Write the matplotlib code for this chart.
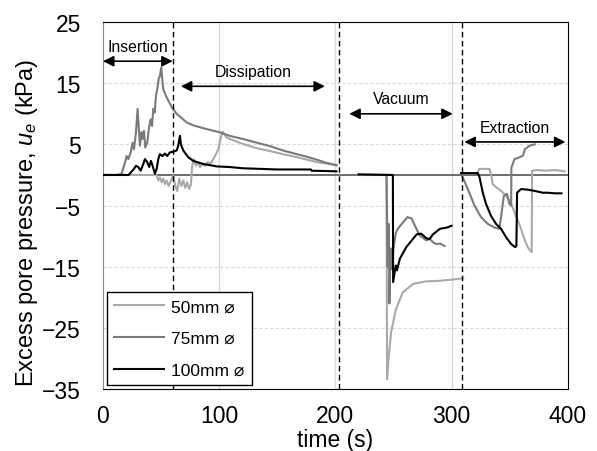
import numpy as np
import matplotlib.pyplot as plt

plt.rcParams['font.family'] = ['Liberation Sans', 'DejaVu Sans']
plt.rcParams['mathtext.fontset'] = 'custom'
plt.rcParams['mathtext.it'] = 'Liberation Sans:italic'
plt.rcParams['mathtext.rm'] = 'Liberation Sans'

# 50 mm probe (light grey)
t50 = [0, 46, 47.6, 49, 50.5, 51.9, 53.3, 54.8, 56.5, 58.2, 60.5, 62.2, 63.9, 65.6, 67.4, 69.1,
       70.8, 72.5, 74.2, 75.7, 76.8, 78.3, 80, 81.7, 83.4, 85.7, 88, 90.3, 92.6, 94.9, 97.2,
       99.2, 101.2, 103, 106, 109, 120, 132, 144, 155, 167, 184, 201,
       np.nan,
       220, 244, 244.5, 245.5, 248, 252, 258, 267, 278, 290, 300, 310,
       np.nan,
       309, 322, 324, 332.6, 334, 335.5, 338.3, 342.6, 347, 351, 355.5, 359.8, 362.7, 365.6,
       367.9, 369, 369.3, 374.2, 381, 389, 397.4]
u50 = [0, 0, -0.9, -0.4, -1.2, -0.6, -1.5, -0.9, -1.8, -1.1, -0.1, -1.8, -2.6, -0.6, -1.8, -0.9,
       -2.1, -1.2, -2.3, -1.5, 1.5, 2.6, 1.5, 2.1, 1.3, 1.8, 1.5, 2.1, 1.8, 2.6, 3.4,
       4.2, 5.9, 7.1, 6.2, 5.9, 5.1, 4.4, 3.9, 3.4, 2.9, 2.1, 1.6,
       np.nan,
       0, 0, -33.4, -30.5, -25.7, -22, -19.2, -17.8, -17.4, -17.3, -17.1, -16.9,
       np.nan,
       0.2, 0.3, 1.0, 1.0, 0.1, -1.5, -2.0, -2.6, -3.4, -4.6, -6.7, -8.8, -10.5, -11.8,
       -12.4, -12.6, 0.7, 0.8, 0.7, 0.8, 0.6]

# 75 mm probe (mid grey)
t75 = [0, 11.8, 16, 19, 20.4, 21.8, 23.8, 25.5, 26.7, 28.4, 29.8, 30.7, 31.8, 33.2, 34.1, 35.3,
       36.4, 38.1, 39.8, 41, 42.2, 43.3, 44.5, 45.6, 46.7, 47.9, 49, 50.2, 51, 51.9, 54.8,
       59.1, 63.4, 72, 77.8, 89.3, 100, 109, 120, 132, 144, 155, 167, 175, 184, 192, 201,
       np.nan,
       220, 244, 244.5, 245, 246, 246.5, 247.5, 248.5, 250, 252, 253.7, 258, 262, 265.5,
       269, 272.7, 278.4, 281, 284, 287, 290, 294,
       np.nan,
       308.5, 314, 319.7, 325.4, 331.2, 337, 341.2, 342.7, 345, 347.8, 349.8, 351.3, 351.5,
       354.2, 358.7, 361.6, 363, 367.3, 371.6]
u75 = [0, 0, 0.2, 2.1, 3.1, 2.6, 3.7, 5.3, 4.2, 7.0, 10.8, 8.0, 4.8, 7.0, 5.9, 7.2,
       4.5, 5.3, 8.0, 9.1, 8.0, 10.8, 10.2, 13.0, 14.0, 15.7, 16.2, 17.6, 15.7, 14.0, 12.7,
       11.1, 10.0, 8.6, 8.1, 7.5, 7.0, 6.4, 5.9, 5.3, 4.7, 4.0, 3.4, 3.0, 2.5, 2.0, 1.6,
       np.nan,
       0, 0, -7, -15, -8, -21, -12, -15.4, -12, -9.5, -8.8, -7.8, -6.9, -7.1,
       -8.5, -9.9, -10.7, -10.4, -11.0, -11.3, -11.2, -11.6,
       np.nan,
       0.1, -2.3, -5.0, -6.9, -8.0, -8.6, -8.8, -6.7, -3.4, -3.1, -4.75, -5.0, 1.2,
       2.6, 2.9, 3.2, 4.2, 4.8, 5.0]

# 100 mm probe (black)
t100 = [0, 22, 26.7, 28.4, 30.4, 32.4, 34.7, 36.1, 38.1, 39.8, 41.3, 42.7, 44.7, 46.2, 47.6,
        49, 51.3, 53.3, 55.3, 57.6, 60.5, 63.4, 64.8, 66.2, 67.1, 69.1, 73.4, 77.7, 86.3,
        98, 109, 120, 150, 179, 179.5, 201,
        np.nan,
        220, 249.5, 249.7, 252, 253, 255.5, 261, 270, 274, 278, 281, 284, 290, 296, 300,
        np.nan,
        308.2, 322.6, 324, 326.9, 329.7, 334, 338.3, 342.6, 347, 351.3, 354.7, 355.8, 356.4,
        359.8, 365.6, 371.4, 378.5, 382.8, 389, 394.6]
u100 = [0, 0, 1.0, 1.5, 1.3, 0.7, 1.8, 2.6, 2.1, 1.3, 2.3, 1.5, 0.2, 1.0, 2.6,
        3.4, 3.1, 3.5, 3.1, 3.7, 3.8, 4.0, 4.8, 6.4, 5.0, 4.0, 2.9, 2.3, 1.8,
        1.4, 1.3, 1.1, 0.9, 0.9, 0.7, 0.6,
        np.nan,
        0.1, 0, -17.5, -14.8, -15.6, -13.7, -11.8, -9.7, -9.6, -10.3, -10.5, -9.7, -8.8, -8.6, -8.3,
        np.nan,
        0.3, 0.3, -0.3, -2.9, -4.75, -6.7, -8.0, -8.8, -10.2, -11.3, -11.8, -11.6, -2.9,
        -2.3, -2.4, -2.6, -2.9, -2.9, -3.0, -3.0]

labels = ['50mm \u2300', '75mm \u2300', '100mm \u2300']
colors = ['#a9a9a9', '#7a7a7a', '#000000']

# phase boundaries and labels
phase_lines = [60, 203, 309]
phases = ['Insertion', 'Dissipation', 'Vacuum', 'Extraction']
phase_span = [(0, 60), (67, 191), (212, 301), (311, 398)]
phase_y = [18.6, 14.5, 10.0, 5.4]

fig = plt.figure(figsize=(5.97, 4.52), dpi=100)
ax = fig.add_axes([0.1725, 0.137, 0.7785, 0.812])

ax.set_xlim(0, 400)
ax.set_ylim(-35, 25)
ax.set_xticks([0, 100, 200, 300, 400])
ax.set_yticks(np.arange(-35, 26, 10))

for y in [-25, -15, -5, 5, 15]:
    ax.axhline(y, color='#d9d9d9', lw=0.8, ls=(0, (3, 2)), zorder=0)
for x in [100, 200, 300]:
    ax.axvline(x, color='#d9d9d9', lw=1.0, zorder=0)
ax.axhline(0, color='#555555', lw=1.2, zorder=1)

for t, u, lab, c in zip([t50, t75, t100], [u50, u75, u100], labels, colors):
    ax.plot(t, u, color=c, lw=1.5, label=lab, zorder=3)

for x in phase_lines:
    ax.axvline(x, color='black', lw=1.0, ls=(0, (4, 2.5)), zorder=4)

for name, (a, b), y in zip(phases, phase_span, phase_y):
    ax.annotate('', xy=(a, y), xytext=(b, y),
                arrowprops=dict(arrowstyle='<|-|>', color='black', lw=1.2,
                                mutation_scale=16, shrinkA=0, shrinkB=0))
    ax.text((a + b) / 2, y + 1.2, name, ha='center', va='bottom', fontsize=11.3)

ax.tick_params(length=0, labelsize=16.5)
ax.tick_params(axis='y', pad=16)
ax.tick_params(axis='x', pad=11)
ax.spines['left'].set_color('#888888')

ax.set_xlabel('time (s)', fontsize=16.5)
ax.xaxis.set_label_coords(0.5, -0.105, transform=ax.transAxes)
ax.xaxis.label.set_va('top')
ax.set_ylabel('Excess pore pressure, $u_e$ (kPa)', fontsize=17)
ax.yaxis.set_label_coords(-0.163, 0.455)
ax.yaxis.label.set_va('center')

leg = ax.legend(loc='lower left', bbox_to_anchor=(0.009, 0.012), fontsize=12.5,
                handlelength=2.9, handletextpad=0.4, labelspacing=0.95, borderaxespad=0,
                fancybox=False, framealpha=1)
leg.get_frame().set_edgecolor('black')
leg.get_frame().set_linewidth(1.0)

fig.savefig('out.png', dpi=100)
